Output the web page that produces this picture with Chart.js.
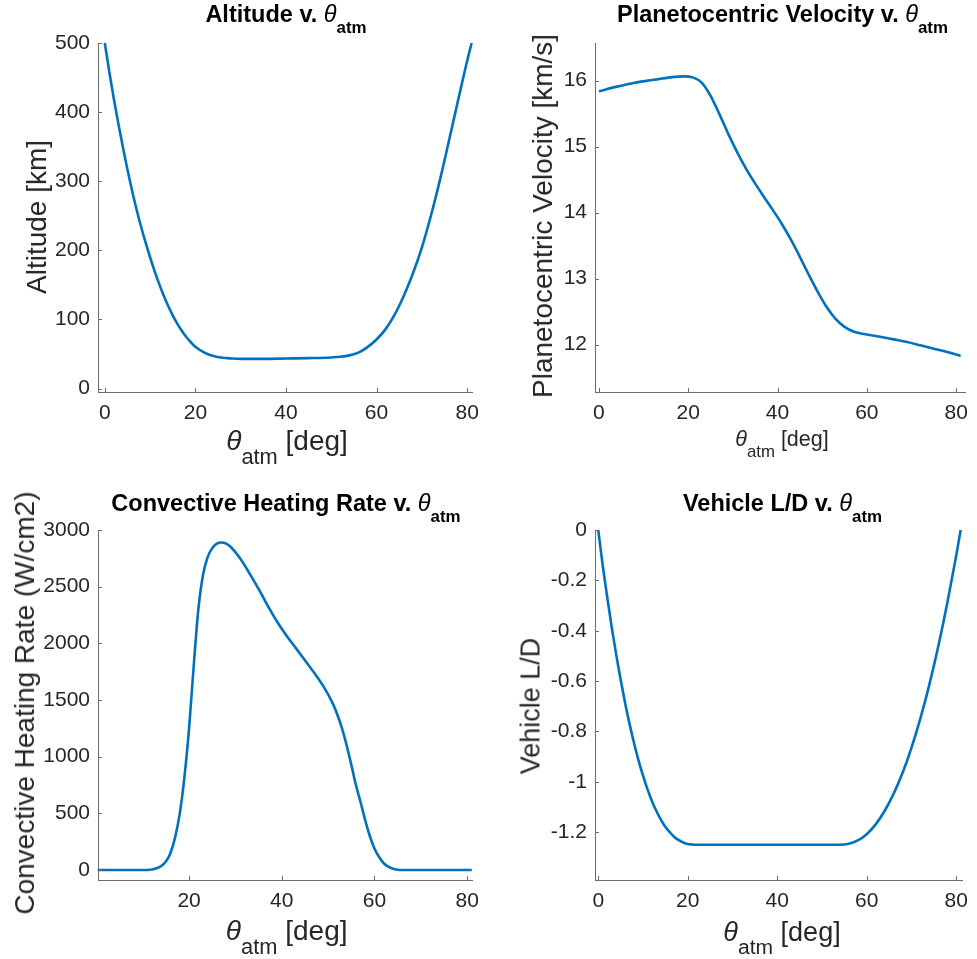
<!DOCTYPE html>
<html><head><meta charset="utf-8">
<script src="https://cdn.jsdelivr.net/npm/chart.js@4"></script>
<style>
html,body{margin:0;padding:0;background:#fff;}
#wrap{position:relative;width:977px;height:959px;overflow:hidden;font-family:Helvetica,"Liberation Sans",Arial,sans-serif;color:#000;}
canvas{position:absolute;}
.t{position:absolute;white-space:nowrap;line-height:1;}
.th{font-style:italic;font-weight:normal;}
.sb{position:relative;top:0.65em;font-size:0.72em;}
</style></head><body><div id="wrap"></div>
<script>
// ---------- data ----------
const altTheta = [0,1,2,3,4,5,6,7,8,9,10,11,12,13,14,15,16,17,18,19,20,22,24,26,28,30,35,40,45,50,52,54,56,58,60,62,64,66,68,70,72,74,76,78,80,81];
const altKm    = [500,458,419,383,349,317,287,259.5,234.5,211.5,190,170,151.5,134.5,119.5,106,94,83.5,74.5,67,60.5,52,47,44.5,43.5,43,43,43.5,44,45,46,48,52,60,71,86,107,134,166,204,250,302,359,417,474,500];

const velTheta = [0,4,8,12,16,19,21,23,25,27,29,31,33,35,37,39,41,43,45,47,49,51,53,55,57,59,63,66,69,72,75,78,81];
const velKms   = [15.84,15.91,15.97,16.01,16.05,16.065,16.05,15.97,15.77,15.49,15.19,14.91,14.66,14.44,14.235,14.035,13.825,13.59,13.33,13.06,12.8,12.57,12.39,12.27,12.2,12.165,12.12,12.08,12.04,11.99,11.94,11.89,11.83];

const heatTheta = [0.3,10,12,13,14,15,16,17,18,19,20,21,22,23,24,25,26,27,28,29,31,33,35,37,39,41,43,45,47,49,51,52,53,54,55,56,57,58,59,60,61,62,63,64,65,66,81];
const heatWcm2  = [0,0,5,15,35,75,150,290,500,820,1250,1800,2300,2600,2760,2840,2880,2890,2880,2850,2750,2620,2480,2330,2190,2070,1960,1850,1740,1620,1470,1370,1250,1100,930,750,600,440,300,190,115,60,30,12,3,0,0];

const ldTheta = [0,1,2,3,4,5,6,7,8,9,10,11,12,13,14,15,16,17,18,19,20,21,22,54,56,58,60,62,64,66,68,70,72,74,76,78,80,81];
const ldValue = [0,-0.14,-0.265,-0.384,-0.493,-0.594,-0.686,-0.77,-0.846,-0.915,-0.975,-1.029,-1.076,-1.116,-1.15,-1.179,-1.2,-1.219,-1.232,-1.241,-1.247,-1.249,-1.25,-1.25,-1.246,-1.233,-1.208,-1.169,-1.116,-1.048,-0.965,-0.865,-0.748,-0.614,-0.462,-0.291,-0.102,0];

const xTicksFull = [0,20,40,60,80];
const xTicksHeat = [20,40,60,80];
const altTicks  = [0,100,200,300,400,500];
const velTicks  = [12,13,14,15,16];
const heatTicks = [0,500,1000,1500,2000,2500,3000];
const ldTicks   = [0,-0.2,-0.4,-0.6,-0.8,-1,-1.2];

const titleNames = ['Altitude', 'Planetocentric Velocity', 'Convective Heating Rate', 'Vehicle L/D'];
const yLabels = ['Altitude [km]', 'Planetocentric Velocity [km/s]', 'Convective Heating Rate (W/cm2)', 'Vehicle L/D'];

// ---------- layout ----------
const FONT = 'Helvetica, "Liberation Sans", Arial, sans-serif';
const AXIS = '#6b6b6b';
const LINE = '#0072BD';

const panels = [
  {cv:[0,0,488,479],   area:[98,43,474,392],  xr:[-1.5,81.1], yr:[-5,500],      xt:xTicksFull, yt:altTicks,  xs:altTheta,  ys:altKm,
   title:{cx:286,bl:23.3}, xl:{cx:287,bl:451,fs:28}, yl:{bx:46.7,cy:216.7,fs:28}},
  {cv:[488,0,489,479], area:[595,43,970,392], xr:[-0.88,82.0], yr:[11.283,16.571], xt:xTicksFull, yt:velTicks, xs:velTheta, ys:velKms,
   title:{cx:782.5,bl:23.3}, xl:{cx:782,bl:447,fs:21.5}, yl:{bx:553,cy:216,fs:28}},
  {cv:[0,479,488,480], area:[98,530,474,880], xr:[0.35,81.07], yr:[-88,3000],    xt:xTicksHeat, yt:heatTicks, xs:heatTheta, ys:heatWcm2,
   title:{cx:286,bl:511.7}, xl:{cx:286.7,bl:941,fs:28}, yl:{bx:35,cy:703.3,fs:28}},
  {cv:[488,479,489,480], area:[595,530,970,880], xr:[-0.72,81.47], yr:[-1.39,0.0], xt:xTicksFull, yt:ldTicks, xs:ldTheta, ys:ldValue,
   title:{cx:782.5,bl:512}, xl:{cx:782,bl:941.5,fs:27}, yl:{bx:540,cy:706,fs:27}}
];

const wrap = document.getElementById('wrap');

function addText(html, styles){
  const d = document.createElement('div');
  d.className = 't';
  d.innerHTML = html;
  Object.assign(d.style, styles);
  wrap.appendChild(d);
  return d;
}

const inwardTicks = {
  id:'inwardTicks',
  afterDraw(chart){
    const {ctx, chartArea:a, scales:{x, y}} = chart;
    ctx.save();
    ctx.strokeStyle = AXIS; ctx.lineWidth = 1;
    ctx.beginPath();
    x.ticks.forEach(t=>{ const p = Math.round(x.getPixelForValue(t.value))+0.5; ctx.moveTo(p, a.bottom); ctx.lineTo(p, a.bottom-4); });
    y.ticks.forEach(t=>{ const p = Math.round(y.getPixelForValue(t.value))+0.5; ctx.moveTo(a.left, p); ctx.lineTo(a.left+4, p); });
    ctx.stroke();
    ctx.restore();
  }
};

panels.forEach((p, i)=>{
  const [cl, ct, cw, ch] = p.cv;
  const [al, at, ar, ab] = p.area;
  const c = document.createElement('canvas');
  c.width = cw; c.height = ch;
  c.style.left = cl+'px'; c.style.top = ct+'px';
  c.style.width = cw+'px'; c.style.height = ch+'px';
  wrap.appendChild(c);
  const yW = al - cl, xH = (ct+ch) - ab;
  const pts = p.xs.map((v,k)=>({x:v, y:p.ys[k]}));
  new Chart(c, {
    type:'line',
    data:{datasets:[{data:pts, borderColor:LINE, borderWidth:2.6, pointRadius:0, cubicInterpolationMode:'monotone', fill:false, clip:2}]},
    options:{
      responsive:false, animation:false, devicePixelRatio:1,
      layout:{autoPadding:false, padding:{left:0, top:at-ct, right:(cl+cw)-ar, bottom:0}},
      plugins:{legend:{display:false}, tooltip:{enabled:false}, title:{display:false}},
      scales:{
        x:{type:'linear', min:p.xr[0], max:p.xr[1],
           afterBuildTicks:s=>{ s.ticks = p.xt.map(v=>({value:v})); },
           afterFit:s=>{ s.height = xH; },
           grid:{display:false, drawTicks:false}, border:{display:true, color:AXIS, width:1},
           ticks:{font:{family:FONT, size:21}, color:'#262626', padding:9, maxRotation:0, autoSkip:false,
                  callback:v=>String(+Number(v).toFixed(2))}},
        y:{type:'linear', min:p.yr[0], max:p.yr[1],
           afterBuildTicks:s=>{ s.ticks = p.yt.map(v=>({value:v})); },
           afterFit:s=>{ s.width = yW; },
           grid:{display:false, drawTicks:false}, border:{display:true, color:AXIS, width:1},
           ticks:{font:{family:FONT, size:21}, color:'#262626', padding:8, autoSkip:false,
                  callback:v=>String(+Number(v).toFixed(2))}}
      }
    },
    plugins:[inwardTicks]
  });

  // title
  const tf = 23.5;
  addText(titleNames[i]+' v. <span class="th">&theta;</span><span class="sb">atm</span>',
    {left:p.title.cx+'px', top:(p.title.bl-0.8465*tf)+'px', fontSize:tf+'px', fontWeight:'bold', transform:'translateX(-50%)'});
  // x label
  const xf = p.xl.fs;
  addText('<span class="th">&theta;</span><span class="sb" style="font-size:0.78em">atm</span> [deg]',
    {left:p.xl.cx+'px', top:(p.xl.bl-0.8465*xf)+'px', fontSize:xf+'px', color:'#262626', transform:'translateX(-50%)'});
  // y label (rotated)
  const yf = p.yl.fs;
  addText(yLabels[i],
    {left:(p.yl.bx-0.3465*yf)+'px', top:p.yl.cy+'px', fontSize:yf+'px', color:'#262626', transform:'translate(-50%,-50%) rotate(-90deg)'});
});
</script>
</body></html>
